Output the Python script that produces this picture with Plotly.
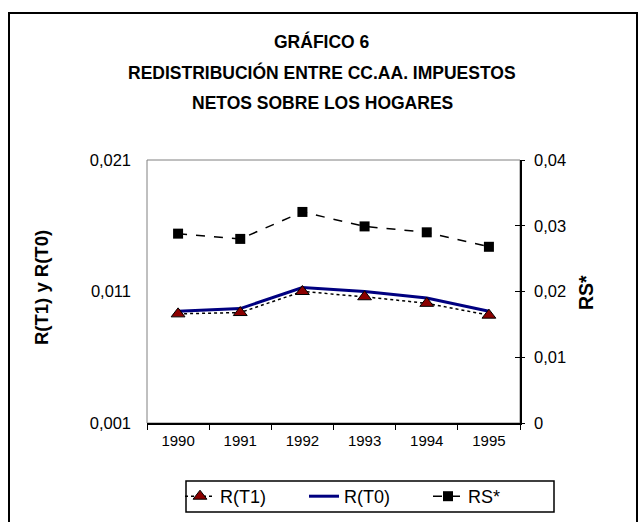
import plotly.graph_objects as go

years = ["1990", "1991", "1992", "1993", "1994", "1995"]
r_t1 = [0.0093, 0.0094, 0.0110, 0.0106, 0.0101, 0.0092]
r_t0 = [0.0095, 0.0097, 0.0113, 0.0110, 0.0105, 0.0095]
rs_star = [0.0288, 0.0280, 0.0321, 0.0299, 0.0290, 0.0268]

left_ticks = [0.001, 0.011, 0.021]
left_labels = ["0,001", "0,011", "0,021"]
right_ticks = [0, 0.01, 0.02, 0.03, 0.04]
right_labels = ["0", "0,01", "0,02", "0,03", "0,04"]

W, H = 643, 522
ML, MR, MT, MB = 147, 123, 160, 99
PW, PH = W - ML - MR, H - MT - MB


def px(x):
    return (x - ML) / PW


def py(y):
    return (H - MB - y) / PH


FONT = "Liberation Sans, Arial, sans-serif"

fig = go.Figure()
fig.add_trace(go.Scatter(
    x=years, y=r_t0, name="R(T0)", mode="lines",
    line=dict(color="#000080", width=3), legendrank=2,
))
fig.add_trace(go.Scatter(
    x=years, y=r_t1, name="R(T1)", mode="lines+markers",
    line=dict(color="black", width=1.5, dash="dot"),
    marker=dict(symbol="triangle-up", size=12, color="#8B0000",
                line=dict(color="black", width=1)),
    legendrank=1,
))
fig.add_trace(go.Scatter(
    x=years, y=rs_star, name="RS*", mode="lines+markers", yaxis="y2",
    line=dict(color="black", width=1.5, dash="dash"),
    marker=dict(symbol="square", size=10, color="black"),
    legendrank=3,
))
# empty helper trace so the inner tick axis on the right is drawn
fig.add_trace(go.Scatter(x=[], y=[], yaxis="y3", showlegend=False,
                         hoverinfo="skip"))

shapes = [
    # outer frame
    dict(type="rect", xref="paper", yref="paper",
         x0=px(9), x1=px(637), y0=py(530), y1=py(13),
         line=dict(color="black", width=2), layer="below"),
    # plot area border
    dict(type="rect", xref="paper", yref="paper",
         x0=0, x1=1, y0=0, y1=1,
         line=dict(color="#808080", width=1), layer="below"),
    # legend box
    dict(type="rect", xref="paper", yref="paper",
         x0=px(186), x1=px(554), y0=py(512), y1=py(481),
         line=dict(color="black", width=1.5), layer="above"),
]

title_lines = ["GRÁFICO 6", "REDISTRIBUCIÓN ENTRE CC.AA. IMPUESTOS",
               "NETOS SOBRE LOS HOGARES"]
title_y = [42, 73, 103]
annotations = []
for t, yy in zip(title_lines, title_y):
    annotations.append(dict(
        text="<b>%s</b>" % t, xref="paper", yref="paper",
        x=px(322), y=py(yy), xanchor="center", yanchor="middle",
        showarrow=False, font=dict(family=FONT, size=17.5, color="black")))
annotations.append(dict(
    text="<b>R(T1) y R(T0)</b>", xref="paper", yref="paper",
    x=px(41), y=py(287), xanchor="center", yanchor="middle", textangle=-90,
    showarrow=False, font=dict(family=FONT, size=18.5, color="black")))
annotations.append(dict(
    text="<b>RS*</b>", xref="paper", yref="paper",
    x=px(586), y=py(293), xanchor="center", yanchor="middle", textangle=-90,
    showarrow=False, font=dict(family=FONT, size=19.5, color="black")))

fig.update_layout(
    width=W, height=H,
    margin=dict(l=ML, r=MR, t=MT, b=MB, pad=0, autoexpand=False),
    paper_bgcolor="white", plot_bgcolor="white",
    font=dict(family=FONT, size=16, color="black"),
    showlegend=True,
    legend=dict(
        orientation="h", x=px(552), y=py(496.5), xanchor="right",
        yanchor="middle",
        borderwidth=0, bgcolor="rgba(0,0,0,0)",
        font=dict(family=FONT, size=18), traceorder="normal",
        entrywidth=79, entrywidthmode="pixels",
    ),
    xaxis=dict(
        type="category", tickson="boundaries", ticks="outside", ticklen=5,
        tickcolor="black", showline=True, linecolor="black", linewidth=1.5,
        showgrid=False, zeroline=False, range=[-0.5, 5.5],
        tickfont=dict(family=FONT, size=15), ticklabelstandoff=3,
    ),
    yaxis=dict(
        range=[0.001, 0.021], tickvals=left_ticks, ticktext=left_labels,
        showgrid=False, zeroline=False, showline=False, ticks="",
        tickfont=dict(family=FONT, size=16.5), ticklabelstandoff=15,
    ),
    yaxis2=dict(
        overlaying="y", side="right", range=[0, 0.04],
        tickvals=right_ticks, ticktext=right_labels,
        showgrid=False, zeroline=False, showline=True, linecolor="black",
        linewidth=1.5, ticks="outside", ticklen=3, tickcolor="black",
        tickfont=dict(family=FONT, size=16.5), ticklabelstandoff=6,
    ),
    yaxis3=dict(
        overlaying="y", side="right", range=[0, 0.04],
        tickvals=right_ticks, showticklabels=False,
        showgrid=False, zeroline=False, showline=False,
        ticks="inside", ticklen=5, tickcolor="black",
    ),
    shapes=shapes, annotations=annotations,
)

fig.write_html(
    "out.html",
    config={"displayModeBar": False},
    post_script="document.body.style.margin='0';document.body.style.padding='0';",
)
